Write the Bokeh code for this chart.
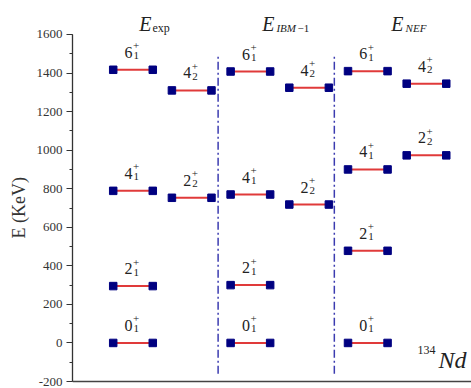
import numpy as np
from bokeh.plotting import figure
from bokeh.models import Range1d, FixedTicker, Span, Title, ColumnDataSource, CustomJSTickFormatter
from bokeh.core.properties import value
from bokeh.embed import file_html
from bokeh.resources import INLINE

# ---- data ----
model_names = ["exp", "IBM-1", "NEF"]
level_slot = [1, 1, 1, 1, 2, 2,
              3, 3, 3, 3, 4, 4,
              5, 5, 5, 5, 6, 6]
level_energy = [0, 295, 789, 1417, 753, 1310,
                0, 300, 770, 1408, 718, 1324,
                0, 478, 900, 1410, 973, 1345]
level_spin = ["0", "2", "4", "6", "2", "4",
              "0", "2", "4", "6", "2", "4",
              "0", "2", "4", "6", "2", "4"]
level_index = ["1", "1", "1", "1", "2", "2",
               "1", "1", "1", "1", "2", "2",
               "1", "1", "1", "1", "2", "2"]
y_ticks = [-200, 0, 200, 400, 600, 800, 1000, 1200, 1400, 1600]
y_minor = list(range(-200, 1601, 100))

# ---- layout constants ----
HALF = 0.337
FONT = "'Liberation Serif'"
divider_x = [2.45, 4.43]
header_x = [1.315, 3.41, 5.61]
header_y = 1622

p = figure(width=471, height=388,
           x_range=Range1d(-0.0307, 6.767), y_range=Range1d(-225.9, 1755.6),
           output_backend="svg", toolbar_location=None, x_axis_location=None,
           min_border_left=72, min_border_right=0, min_border_top=4, min_border_bottom=2)
p.outline_line_color = None
p.grid.grid_line_color = None
p.background_fill_color = "white"
p.border_fill_color = "white"

ax = p.yaxis[0]
ax.ticker = FixedTicker(ticks=y_ticks, minor_ticks=y_minor)
ax.formatter = CustomJSTickFormatter(code="return tick.toString();")
ax.bounds = (-200, 1600)
ax.major_tick_out = 6
ax.major_tick_in = 0
ax.minor_tick_out = 3
ax.minor_tick_in = 0
ax.major_label_standoff = 4
ax.major_label_text_font = FONT
ax.major_label_text_font_size = "13px"
ax.major_label_text_color = "#333333"
ax.axis_line_color = "#333333"
ax.axis_line_width = 1.3
ax.major_tick_line_color = "#333333"
ax.minor_tick_line_color = "#333333"

# y-axis label as a left-side title
p.add_layout(Title(text="E (KeV)", align="left", offset=148, standoff=10,
                   text_font=FONT, text_font_size="18px", text_font_style="normal",
                   text_color="#333333"), "left")

# bottom axis line
p.add_layout(Span(location=-200, dimension="width", line_color="#444444", line_width=1.6))

# dash-dot dividers
p.segment(x0=divider_x, y0=[-160, -160], x1=divider_x, y1=[1500, 1500],
          line_color="#3b3bb0", line_width=1.5, line_dash="8 3 2 3")

x0 = [s - HALF for s in level_slot]
x1 = [s + HALF for s in level_slot]
src = ColumnDataSource(dict(x=level_slot, y=level_energy, j=level_spin, n=level_index,
                            x0=x0, x1=x1))

p.segment("x0", "y", "x1", "y", source=src, line_color="#e03a3a", line_width=2)
p.scatter("x0", "y", source=src, marker="square", size=7.5,
          fill_color="#000080", line_color="#000080")
p.scatter("x1", "y", source=src, marker="square", size=7.5,
          fill_color="#000080", line_color="#000080")

p.text("x", "y", text="j", source=src, text_align="right", text_baseline="alphabetic",
       x_offset=-0.5, y_offset=-17.5, text_font=value(FONT), text_font_size="16px",
       text_color="#222222")
p.text("x", "y", text=value("+"), source=src, text_align="left", text_baseline="alphabetic",
       x_offset=0, y_offset=-24, text_font=value(FONT), text_font_size="11px",
       text_color="#222222")
p.text("x", "y", text="n", source=src, text_align="left", text_baseline="alphabetic",
       x_offset=0.5, y_offset=-14, text_font=value(FONT), text_font_size="11px",
       text_color="#222222")

# headers
p.text(x=header_x, y=[header_y] * 3, text=["E", "E", "E"], text_align="right",
       text_baseline="alphabetic", y_offset=-6, text_font=value(FONT),
       text_font_style="italic", text_font_size="20px", text_color="#222222")
p.text(x=[header_x[0]], y=[header_y], text=["exp"], text_align="left",
       text_baseline="alphabetic", x_offset=1, y_offset=-2, text_font=value(FONT),
       text_font_size="12px", text_color="#222222")
p.text(x=[header_x[1], header_x[2]], y=[header_y, header_y], text=["IBM", "NEF"],
       text_align="left", text_baseline="alphabetic", x_offset=2, y_offset=-2,
       text_font=value(FONT), text_font_style="italic", text_font_size="11px",
       text_color="#222222")
p.text(x=[header_x[1]], y=[header_y], text=["\u22121"], text_align="left",
       text_baseline="alphabetic", x_offset=23, y_offset=-2, text_font=value(FONT),
       text_font_size="11px", text_color="#222222")

# nuclide label
p.text(x=[6.17], y=[-117], text=["134"], text_align="right", text_baseline="alphabetic",
       x_offset=-1, y_offset=-16, text_font=value(FONT), text_font_size="12px",
       text_color="#222222")
p.text(x=[6.17], y=[-117], text=["Nd"], text_align="left", text_baseline="alphabetic",
       x_offset=2, y_offset=-6, text_font=value(FONT), text_font_style="italic",
       text_font_size="24px", text_color="#222222")

open("out.html", "w").write(file_html(p, INLINE))
